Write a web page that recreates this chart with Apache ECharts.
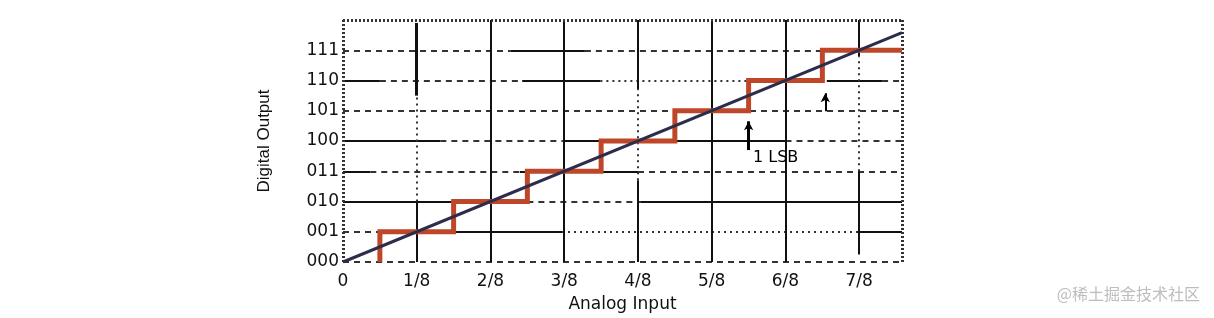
<!DOCTYPE html>
<html>
<head>
<meta charset="utf-8">
<script src="https://cdn.jsdelivr.net/npm/echarts@6/dist/echarts.min.js"></script>
<style>html,body{margin:0;padding:0;background:#fff;}#c{width:1214px;height:318px;}</style>
</head>
<body>
<div id="c"></div>
<script>
// ---- data ----
const xTickLabels = ['0', '1/8', '2/8', '3/8', '4/8', '5/8', '6/8', '7/8'];
const yTickLabels = ['000', '001', '010', '011', '100', '101', '110', '111'];
const xMax = 7.58;           // right edge of the plotted input range (in 1/8 units)
const yMax = 8;
const idealLine = [[0, 0], [7.58, 7.58]];
const stepEdges = [0.5, 1.5, 2.5, 3.5, 4.5, 5.5, 6.5]; // code transitions
const stepCodes = [0, 1, 2, 3, 4, 5, 6, 7];
// horizontal grid segments: [y, x1, x2, kind]
const hGrid = [
  [0, 0, 7.58, 'dash'],
  [1, 0, 0.5, 'dash'], [1, 0.5, 2.97, 'solid'], [1, 2.97, 6.97, 'dot'], [1, 6.97, 7.58, 'solid'],
  [2, 0, 2.5, 'solid'], [2, 2.5, 4.03, 'dash'], [2, 4.03, 7.58, 'solid'],
  [3, 0, 0.37, 'solid'], [3, 0.37, 2.4, 'dash'], [3, 2.4, 4.0, 'solid'], [3, 4.0, 7.58, 'dash'],
  [4, 0, 1.32, 'solid'], [4, 1.32, 2.98, 'dash'], [4, 2.98, 6.0, 'solid'], [4, 6.0, 7.58, 'dash'],
  [5, 0, 7.58, 'dash'],
  [6, 0, 0.5, 'solid'], [6, 0.5, 2.43, 'dash'], [6, 2.43, 3.49, 'solid'], [6, 3.49, 6.56, 'dot'], [6, 6.56, 7.31, 'solid'], [6, 7.31, 7.58, 'dash'],
  [7, 0, 2.27, 'dash'], [7, 2.27, 3.28, 'solid'], [7, 3.28, 7.58, 'dash']
];
// vertical grid segments: [x, y1, y2, kind]
const vGrid = [
  [1, 0, 2, 'solid'], [1, 2, 5.5, 'dot'], [1, 5.5, 7.9, 'thick'],
  [2, 0, 8, 'solid'], [3, 0, 8, 'solid'],
  [4, 0, 2.7, 'solid'], [4, 2.7, 5.7, 'dot'], [4, 5.7, 8, 'solid'],
  [5, 0, 8, 'solid'], [6, 0, 8, 'solid'],
  [7, 0.25, 3, 'solid'], [7, 3, 6.8, 'dot'], [7, 6.8, 8, 'solid']
];
// frame: [x1, y1, x2, y2]
const frame = [[0, 0, 0, 8], [0, 8, 7.58, 8], [7.58, 0, 7.58, 8]];
// annotation arrows: [x, yFrom, yTo, width]
const arrows = [[5.5, 3.7, 4.65, 3], [6.54, 4.98, 5.58, 2]];
const lsbLabel = {text: '1 LSB', x: 5.56, y: 3.44};

// ---- build ----
const styles = {
  solid: {color: '#111', width: 2, type: 'solid'},
  thick: {color: '#111', width: 3, type: 'solid'},
  dash: {color: '#333', width: 2, type: [6, 5]},
  dot: {color: '#333', width: 2, type: [2, 4]},
  frame: {color: '#333', width: 3, type: [2, 2]}
};
const gridLines = [];
hGrid.forEach(s => gridLines.push([{coord: [s[1], s[0]], lineStyle: styles[s[3]]}, {coord: [s[2], s[0]]}]));
vGrid.forEach(s => gridLines.push([{coord: [s[0], s[1]], lineStyle: styles[s[3]]}, {coord: [s[0], s[2]]}]));
frame.forEach(s => gridLines.push([{coord: [s[0], s[1]], lineStyle: styles.frame}, {coord: [s[2], s[3]]}]));

const stairs = [];
stepEdges.forEach((e, i) => { stairs.push([e, stepCodes[i]]); stairs.push([e, stepCodes[i + 1]]); });
stairs.push([xMax, stepCodes[stepCodes.length - 1]]);

const arrowLines = arrows.map(a => [{coord: [a[0], a[1]], lineStyle: {color: '#000', width: a[3], type: 'solid'}}, {coord: [a[0], a[2]]}]);

const chart = echarts.init(document.getElementById('c'), null, {renderer: 'canvas'});
const labelFont = {fontFamily: 'DejaVu Sans', fontSize: 17, color: '#111'};
chart.setOption({
  animation: false,
  backgroundColor: '#fff',
  grid: {left: 343, right: 312, top: 20, bottom: 51},
  xAxis: {
    type: 'value', min: 0, max: xMax, interval: 1,
    axisLine: {show: false}, axisTick: {show: false}, splitLine: {show: false},
    axisLabel: Object.assign({margin: 11, showMaxLabel: false,
      formatter: v => (Number.isInteger(v) && v < xTickLabels.length) ? xTickLabels[v] : ''}, labelFont),
    name: 'Analog Input', nameLocation: 'middle', nameGap: 34,
    nameTextStyle: {fontFamily: 'DejaVu Sans', fontSize: 17, color: '#111'}
  },
  yAxis: {
    type: 'value', min: 0, max: yMax, interval: 1,
    axisLine: {show: false}, axisTick: {show: false}, splitLine: {show: false},
    axisLabel: Object.assign({margin: 4,
      formatter: v => (v < yTickLabels.length) ? yTickLabels[v] : ''}, labelFont),
    name: 'Digital Output', nameLocation: 'middle', nameGap: 70,
    nameTextStyle: {fontFamily: 'Liberation Sans Narrow, Liberation Sans', fontSize: 17, color: '#111'}
  },
  series: [
    {
      type: 'line', data: [], silent: true, z: 1,
      markLine: {silent: true, z: 1, symbol: ['none', 'none'], label: {show: false}, animation: false, data: gridLines}
    },
    {
      type: 'line', data: stairs, showSymbol: false, silent: true, z: 3,
      lineStyle: {color: '#bf4729', width: 5, join: 'miter'}
    },
    {
      type: 'line', data: idealLine, showSymbol: false, silent: true, z: 4,
      lineStyle: {color: '#2c2c4c', width: 3}
    },
    {
      type: 'line', data: [], silent: true, z: 5,
      markLine: {silent: true, z: 5, symbol: ['none', 'arrow'], symbolSize: [7, 9], label: {show: false}, animation: false, data: arrowLines}
    },
    {
      type: 'scatter', data: [[lsbLabel.x, lsbLabel.y]], symbolSize: 0, silent: true, z: 6,
      itemStyle: {opacity: 1},
      label: {show: true, position: 'right', distance: 0, formatter: lsbLabel.text,
        fontFamily: 'DejaVu Sans', fontSize: 16, color: '#000', opacity: 1}
    }
  ],
  graphic: [{
    type: 'text', right: 14, top: 286,
    style: {text: '@稀土掘金技术社区', font: '16px "Noto Sans CJK SC"', fill: '#bdbdbd'}
  }]
});
</script>
</body>
</html>
